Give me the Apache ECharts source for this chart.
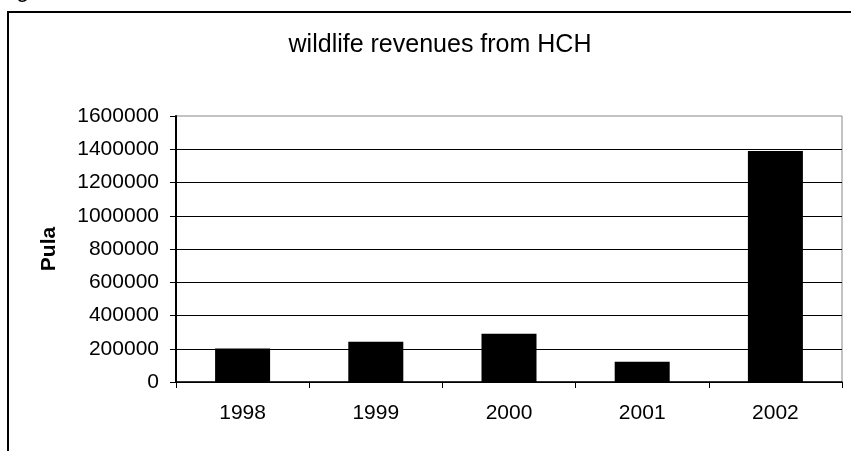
<!DOCTYPE html>
<html>
<head>
<meta charset="utf-8">
<script src="https://cdn.jsdelivr.net/npm/echarts@6/dist/echarts.min.js"></script>
<style>
  html, body { margin: 0; padding: 0; background: #fff; }
  #chart { width: 851px; height: 451px; }
</style>
</head>
<body>
<div id="chart"></div>
<script>
const years = ['1998', '1999', '2000', '2001', '2002']
const revenues = [202000, 242000, 290000, 122000, 1390000]

const el = echarts.init(document.getElementById('chart'))
el.setOption({
  animation: false,
  textStyle: {fontFamily: 'Liberation Sans, Arial, sans-serif'},
  title: {
    text: 'wildlife revenues from HCH',
    left: 435,
    textAlign: 'center',
    top: 28,
    textStyle: {fontSize: 25, fontWeight: 'normal', color: '#000'}
  },
  graphic: [
    // outer chart frame, runs past the picture on right and bottom
    {
      type: 'rect',
      shape: {x: 8, y: 12, width: 900, height: 500},
      style: {fill: 'none', stroke: '#000', lineWidth: 2},
      z: 0
    },
    {
      type: 'text',
      left: 16,
      top: -22,
      style: {text: 'g', fontSize: 24, fill: '#000', fontFamily: 'Liberation Sans, Arial, sans-serif'}
    }
  ],
  grid: {
    left: 176, right: 9, top: 116, bottom: 69,
    show: true,
    borderColor: '#888',
    borderWidth: 1
  },
  xAxis: {
    type: 'category',
    data: years,
    axisLine: {lineStyle: {color: '#000', width: 1.5}},
    axisTick: {show: true, length: 6, lineStyle: {color: '#000'}},
    axisLabel: {color: '#000', fontSize: 21, margin: 21}
  },
  yAxis: {
    type: 'value',
    min: 0,
    max: 1600000,
    interval: 200000,
    name: 'Pula',
    nameLocation: 'middle',
    nameGap: 116,
    nameTextStyle: {fontSize: 21, fontWeight: 'bold', color: '#000'},
    axisLine: {show: true, lineStyle: {color: '#000', width: 2}},
    axisTick: {show: true, length: 6, lineStyle: {color: '#000'}},
    axisLabel: {color: '#000', fontSize: 21, margin: 17, formatter: v => String(v)},
    splitLine: {show: true, showMaxLine: false, lineStyle: {color: '#000', width: 1}}
  },
  series: [{
    type: 'bar',
    data: revenues,
    barWidth: 55,
    itemStyle: {color: '#000'}
  }]
})
</script>
</body>
</html>
